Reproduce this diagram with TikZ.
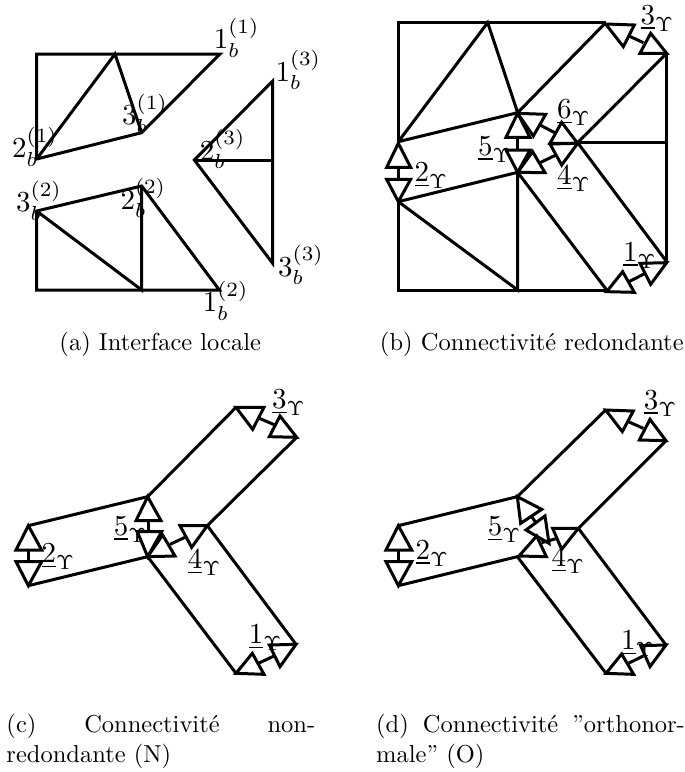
\documentclass[tikz,border=0pt]{standalone}
\tikzset{
  edge/.style={draw=black,line width=3pt,line join=miter},
  lab/.style={anchor=base west,inner sep=0pt,scale=2.9},
  captext/.style={anchor=base west,inner sep=0pt,scale=2.45},
  zoomc/.style={x=0.33333pt,y=-0.33333pt}
}
\newcommand{\tria}[3]{\draw[edge] #1 -- #2 -- #3 -- cycle;}
\begin{document}
\begin{tikzpicture}[x=1pt,y=-1pt]
\useasboundingbox (0,0) rectangle (685,772);
% ---------- (a)
\begin{scope}[zoomc]
\coordinate (a1) at (110,162); \coordinate (a2) at (345,162); \coordinate (a3) at (660,162);
\coordinate (a4) at (425,398); \coordinate (a5) at (110,477);
\draw[edge] (a1) -- (a3) -- (a4) -- (a5) -- cycle;
\draw[edge] (a5) -- (a2) -- (a4);
\coordinate (c1) at (818,243); \coordinate (c2) at (583,480); \coordinate (c3) at (818,480); \coordinate (c4) at (818,790);
\draw[edge] (c1) -- (c2) -- (c4) -- cycle;
\draw[edge] (c2) -- (c3);
\coordinate (b1) at (110,633); \coordinate (b2) at (425,558); \coordinate (b3) at (658,870);
\coordinate (b4) at (425,870); \coordinate (b5) at (110,870);
\draw[edge] (b1) -- (b2) -- (b3) -- (b5) -- cycle;
\draw[edge] (b1) -- (b4) -- (b2);
\node[lab] (la1) at (640,145) {$1_b^{(1)}$};
\node[lab] (la2) at (825,243) {$1_b^{(3)}$};
\node[lab] (la3) at (365,373) {$3_b^{(1)}$};
\node[lab] (la4) at (35,473) {$2_b^{(1)}$};
\node[lab] (la5) at (598,480) {$2_b^{(3)}$};
\node[lab] (la6) at (47,635) {$3_b^{(2)}$};
\node[lab] (la7) at (360,627) {$2_b^{(2)}$};
\node[lab] (la8) at (607,935) {$1_b^{(2)}$};
\node[lab] (la9) at (833,828) {$3_b^{(3)}$};
\end{scope}
\node[captext] (capa) at (59,350.7) {(a) Interface locale};
% ---------- (b)
\begin{scope}[shift={(345pt,0pt)},zoomc]
\coordinate (p1) at (160,68); \coordinate (p2) at (428,68); \coordinate (p3) at (782,68);
\coordinate (p4) at (965,160); \coordinate (p5) at (965,428); \coordinate (p6) at (965,785);
\coordinate (p7) at (785,870); \coordinate (p8) at (518,870); \coordinate (p9) at (160,870);
\coordinate (q1) at (160,605); \coordinate (q2) at (160,425);
\coordinate (q3) at (518,338); \coordinate (q4) at (518,517); \coordinate (q5) at (698,428);
\draw[edge] (q2) -- (p1) -- (p3);
\draw[edge] (q1) -- (p9) -- (p7);
\draw[edge] (p4) -- (p6);
\draw[edge] (q2) -- (p2) -- (q3) -- (p3);
\draw[edge] (q2) -- (q3);
\draw[edge] (q1) -- (q4);
\draw[edge] (p4) -- (q5) -- (p6);
\draw[edge] (q5) -- (p5);
\draw[edge] (p7) -- (q4) -- (p8) -- (q1);
\tria{(160,430)}{(125,502)}{(197,502)}
\tria{(160,605)}{(125,538)}{(197,538)}
\draw[edge] (160,502) -- (160,538);
\tria{(518,340)}{(483,412)}{(555,412)}
\tria{(518,517)}{(483,450)}{(555,450)}
\draw[edge] (518,412) -- (518,450);
\tria{(518,340)}{(602,343)}{(565,408)}
\tria{(698,430)}{(615,430)}{(650,367)}
\draw[edge] (585,375) -- (633,400);
\tria{(698,430)}{(615,432)}{(650,495)}
\tria{(518,517)}{(600,518)}{(563,455)}
\draw[edge] (633,465) -- (585,488);
\tria{(782,72)}{(868,75)}{(835,140)}
\tria{(965,160)}{(885,160)}{(917,100)}
\draw[edge] (850,107) -- (895,128);
\tria{(785,875)}{(868,877)}{(833,815)}
\tria{(965,788)}{(885,790)}{(917,853)}
\draw[edge] (852,845) -- (897,822);
\node[lab] (lb3) at (885,72) {$\underline{3}_\Upsilon$};
\node[lab] (lb6) at (635,355) {$\underline{6}_\Upsilon$};
\node[lab] (lb5) at (398,465) {$\underline{5}_\Upsilon$};
\node[lab] (lb2) at (207,545) {$\underline{2}_\Upsilon$};
\node[lab] (lb4) at (635,553) {$\underline{4}_\Upsilon$};
\node[lab] (lb1) at (833,783) {$\underline{1}_\Upsilon$};
\end{scope}
\node[captext] (capb) at (379.5,350.7) {(b) Connectivité redondante};
% ---------- (c)
\begin{scope}[shift={(0pt,-360pt)},zoomc]
\coordinate (r1) at (708,142); \coordinate (r2) at (890,232); \coordinate (r3) at (443,410);
\coordinate (r4) at (622,497); \coordinate (r5) at (443,590); \coordinate (r6) at (85,497);
\coordinate (r7) at (85,677); \coordinate (r8) at (888,853); \coordinate (r9) at (708,940);
\draw[edge] (r6) -- (r3) -- (r1);
\draw[edge] (r2) -- (r4) -- (r8);
\draw[edge] (r7) -- (r5) -- (r9);
\tria{(85,497)}{(48,570)}{(125,570)}
\tria{(85,677)}{(48,605)}{(125,605)}
\draw[edge] (85,570) -- (85,605);
\tria{(443,410)}{(408,482)}{(483,482)}
\tria{(443,590)}{(412,515)}{(485,515)}
\draw[edge] (445,482) -- (445,515);
\tria{(443,590)}{(525,588)}{(488,525)}
\tria{(622,497)}{(540,497)}{(575,562)}
\draw[edge] (510,553) -- (555,532);
\tria{(708,142)}{(792,142)}{(758,208)}
\tria{(890,232)}{(808,230)}{(840,168)}
\draw[edge] (778,175) -- (825,195);
\tria{(708,940)}{(792,943)}{(757,880)}
\tria{(888,853)}{(808,855)}{(840,920)}
\draw[edge] (775,910) -- (822,888);
\node[lab] (lc3) at (815,145) {$\underline{3}_\Upsilon$};
\node[lab] (lc5) at (340,525) {$\underline{5}_\Upsilon$};
\node[lab] (lc2) at (123,607) {$\underline{2}_\Upsilon$};
\node[lab] (lc4) at (562,625) {$\underline{4}_\Upsilon$};
\node[lab] (lc1) at (745,850) {$\underline{1}_\Upsilon$};
\end{scope}
\node[captext,text width=126pt,align=justify] (capc) at (6,732.7) {(c)\hfill Connectivité\hfill non-\\redondante (N)};
% ---------- (d)
\begin{scope}[shift={(345pt,-360pt)},zoomc]
\coordinate (s1) at (782,150); \coordinate (s2) at (963,242); \coordinate (s3) at (517,410);
\coordinate (s4) at (700,505); \coordinate (s5) at (517,590); \coordinate (s6) at (160,497);
\coordinate (s7) at (160,677); \coordinate (s8) at (963,855); \coordinate (s9) at (783,940);
\draw[edge] (s6) -- (s3) -- (s1);
\draw[edge] (s2) -- (s4) -- (s8);
\draw[edge] (s7) -- (s5) -- (s9);
\tria{(160,497)}{(123,570)}{(200,570)}
\tria{(160,677)}{(123,605)}{(200,605)}
\draw[edge] (160,570) -- (160,605);
\tria{(517,410)}{(590,448)}{(527,490)}
\tria{(600,468)}{(543,510)}{(612,550)}
\draw[edge] (560,470) -- (572,487);
\tria{(522,588)}{(604,590)}{(575,528)}
\tria{(700,505)}{(623,505)}{(650,568)}
\draw[edge] (590,548) -- (637,535);
\tria{(782,150)}{(865,153)}{(832,215)}
\tria{(963,242)}{(883,240)}{(915,178)}
\draw[edge] (850,185) -- (895,205);
\tria{(783,940)}{(866,943)}{(830,882)}
\tria{(963,855)}{(887,857)}{(915,920)}
\draw[edge] (850,910) -- (895,888);
\node[lab] (ld3) at (895,147) {$\underline{3}_\Upsilon$};
\node[lab] (ld5) at (427,527) {$\underline{5}_\Upsilon$};
\node[lab] (ld2) at (210,597) {$\underline{2}_\Upsilon$};
\node[lab] (ld4) at (618,620) {$\underline{4}_\Upsilon$};
\node[lab] (ld1) at (827,868) {$\underline{1}_\Upsilon$};
\end{scope}
\node[captext,text width=126pt,align=justify] (capd) at (375.7,732.7) {(d)\hfill Connectivité\hfill ''orthonor-\\male'' (O)};
\end{tikzpicture}
\end{document}
